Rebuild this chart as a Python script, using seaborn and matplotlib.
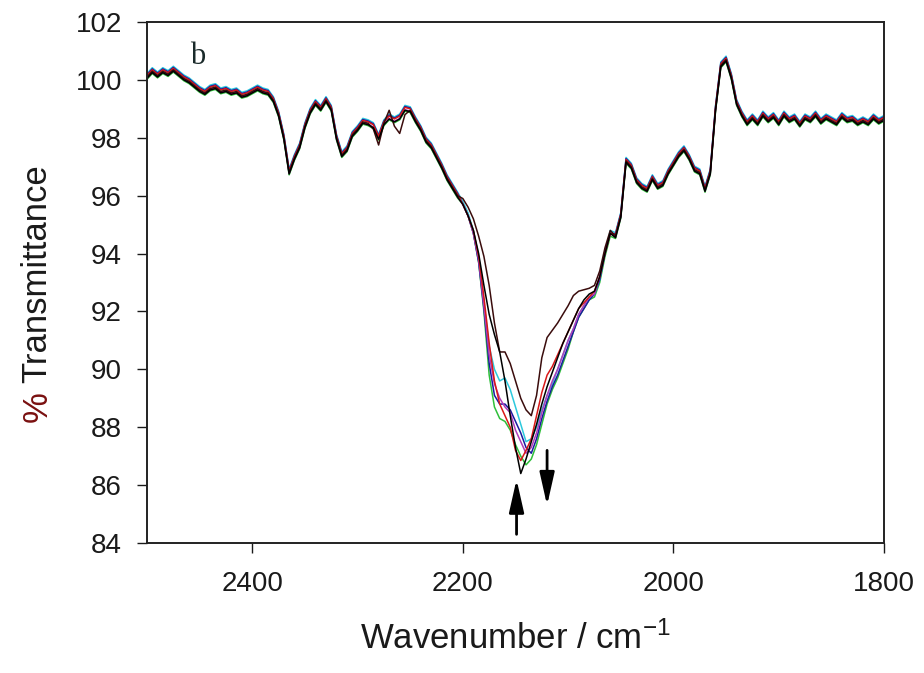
import numpy as np
import pandas as pd
import matplotlib
matplotlib.use("Agg")
import matplotlib.pyplot as plt
import seaborn as sns

# ---------------- data ----------------
wn_left = np.arange(2500, 2200, -5)      # 2500 ... 2205
T_left = [100.1, 100.3, 100.15, 100.3, 100.2, 100.35, 100.2, 100.05, 99.95, 99.8,
          99.65, 99.55, 99.7, 99.75, 99.6, 99.65, 99.55, 99.6, 99.45, 99.5,
          99.6, 99.7, 99.6, 99.55, 99.3, 98.8, 98.0, 96.8, 97.3, 97.7,
          98.4, 98.9, 99.2, 99.0, 99.3, 99.0, 98.0, 97.4, 97.6, 98.1,
          98.3, 98.55, 98.5, 98.4, 98.0, 98.5, 98.7, 98.6, 98.7, 99.0,
          98.95, 98.6, 98.3, 97.9, 97.7, 97.35, 97.0, 96.6, 96.3, 96.0]

# dark trace deviates a little between 2285 and 2255
dark_patch_wn = [2285, 2280, 2275, 2270, 2265, 2260, 2255]
dark_patch_T = [98.3, 97.75, 98.5, 98.95, 98.4, 98.15, 98.8]

wn_mid = np.arange(2200, 2055, -5)       # 2200 ... 2060
mid_dark = [95.9, 95.6, 95.2, 94.6, 93.9, 92.9, 91.6, 90.6, 90.6, 90.2,
            89.6, 89.0, 88.6, 88.4, 89.1, 90.4, 91.1, 91.35, 91.6, 91.9,
            92.2, 92.55, 92.7, 92.75, 92.8, 92.9, 93.4, 94.2, 94.8]
mid_black = [95.7, 95.3, 94.8, 94.0, 92.9, 91.9, 91.2, 90.6, 89.6, 88.4,
             87.3, 86.4, 86.9, 87.5, 88.1, 88.8, 89.4, 89.9, 90.4, 90.9,
             91.3, 91.7, 92.1, 92.4, 92.6, 92.7, 93.2, 94.0, 94.7]
mid_red = [95.7, 95.3, 94.8, 93.9, 92.5, 90.9, 89.6, 88.8, 88.4, 88.0,
           87.2, 86.85, 87.2, 87.6, 88.4, 89.2, 89.8, 90.1, 90.5, 90.9,
           91.3, 91.7, 92.1, 92.3, 92.5, 92.7, 93.2, 94.0, 94.7]
mid_green = [95.7, 95.3, 94.7, 93.7, 92.0, 89.8, 88.7, 88.3, 88.2, 87.9,
             87.4, 87.0, 86.7, 86.9, 87.4, 88.1, 88.8, 89.3, 89.7, 90.2,
             90.7, 91.3, 91.8, 92.1, 92.4, 92.5, 93.0, 93.9, 94.6]
mid_blue = [95.7, 95.3, 94.7, 93.7, 92.1, 90.2, 89.1, 88.8, 88.8, 88.6,
            88.2, 87.8, 87.3, 87.1, 87.6, 88.3, 88.9, 89.4, 89.8, 90.3,
            90.8, 91.3, 91.8, 92.1, 92.4, 92.6, 93.1, 94.0, 94.7]
mid_cyan = [95.8, 95.4, 94.8, 93.8, 92.3, 90.8, 90.0, 89.6, 89.7, 89.3,
            88.7, 88.1, 87.5, 87.6, 88.0, 88.6, 89.1, 89.5, 90.0, 90.5,
            91.0, 91.4, 91.9, 92.2, 92.5, 92.6, 93.1, 94.0, 94.8]
mid_purple = [95.7, 95.3, 94.7, 93.8, 92.2, 90.5, 89.5, 89.0, 88.7, 88.5,
              87.9, 87.5, 87.1, 87.3, 87.8, 88.5, 89.1, 89.6, 90.0, 90.5,
              91.0, 91.4, 91.9, 92.2, 92.5, 92.6, 93.2, 94.1, 94.7]

wn_right = np.arange(2055, 1795, -5)     # 2055 ... 1800
T_right = [94.6, 95.3, 97.2, 97.0, 96.5, 96.3, 96.2, 96.6, 96.3, 96.4,
           96.8, 97.1, 97.4, 97.6, 97.3, 96.9, 96.8, 96.2, 96.8, 99.0,
           100.5, 100.7, 100.1, 99.2, 98.8, 98.5, 98.7, 98.5, 98.8, 98.6,
           98.75, 98.5, 98.8, 98.6, 98.7, 98.45, 98.7, 98.6, 98.8, 98.55,
           98.7, 98.6, 98.5, 98.75, 98.6, 98.65, 98.5, 98.6, 98.5, 98.7,
           98.55, 98.65]

series_names = ["green", "cyan", "blue", "purple", "red", "dark", "black"]
series_mid = [mid_green, mid_cyan, mid_blue, mid_purple, mid_red, mid_dark, mid_black]
series_offsets = [-0.08, 0.12, 0.08, -0.03, 0.05, 0.0, -0.05]
series_colors = ["#2fbf3a", "#2cc9dd", "#1a1aa0", "#b03cb8", "#d81818", "#3a0c0c", "#000000"]

arrow_up_x, arrow_up_from, arrow_up_to = 2149, 84.3, 86.2
arrow_dn_x, arrow_dn_from, arrow_dn_to = 2120, 87.2, 85.3
panel_label = "b"
panel_label_pos = (2452, 100.8)

x_ticks = [2400, 2200, 2000, 1800]
y_ticks = [84, 86, 88, 90, 92, 94, 96, 98, 100, 102]

# ---------------- build long-form table ----------------
frames = []
for name, mid, off in zip(series_names, series_mid, series_offsets):
    left = pd.Series(np.array(T_left) + off, index=wn_left)
    if name == "dark":
        left.loc[dark_patch_wn] = dark_patch_T
    wn = np.concatenate([wn_left, wn_mid, wn_right])
    T = np.concatenate([left.values, np.array(mid), np.array(T_right) + off])
    frames.append(pd.DataFrame({"wn": wn, "T": T, "series": name}))
df = pd.concat(frames, ignore_index=True)

# ---------------- plot ----------------
sns.set_style("white")
plt.rcParams["font.family"] = ["Liberation Sans", "DejaVu Sans"]
plt.rcParams["mathtext.fontset"] = "custom"
plt.rcParams["mathtext.rm"] = "Liberation Sans"
plt.rcParams["mathtext.it"] = "Liberation Sans"

fig = plt.figure(figsize=(9.24, 6.73), dpi=100)
ax = fig.add_axes([147 / 924, 1 - 543 / 673, (884 - 147) / 924, (543 - 22) / 673])

sns.lineplot(data=df, x="wn", y="T", hue="series", hue_order=series_names,
             palette=dict(zip(series_names, series_colors)), estimator=None,
             linewidth=1.1, legend=False, ax=ax)

ax.set_xlim(2500, 1800)
ax.set_ylim(84, 102)
ax.set_xticks(x_ticks)
ax.set_yticks(y_ticks)
ax.tick_params(axis="both", direction="out", length=7, width=1.0,
               labelsize=20, colors="#1a1a1a", bottom=True, left=True, top=False, right=False)
ax.tick_params(axis="x", pad=13)
ax.tick_params(axis="y", pad=11)
for s in ax.spines.values():
    s.set_color("#222222")
    s.set_linewidth(1.4)

ax.set_xlabel(r"Wavenumber / cm$^{\mathrm{-1}}$", fontsize=25, color="#1a1a1a", labelpad=18)
ax.set_ylabel("")

# y label: red "%" followed by "Transmittance"
ylab_kw = dict(rotation=90, rotation_mode="anchor", ha="left", va="center", fontsize=25)
x0, y0 = 37 / 924, 1 - 422 / 673
pct = fig.text(x0, y0, "%", color="#7a1010", **ylab_kw)
fig.canvas.draw()
bb = pct.get_window_extent(renderer=fig.canvas.get_renderer())
gap = 8 / 673
fig.text(x0, bb.y1 / fig.bbox.height + gap, "Transmittance", color="#1a1a1a", **ylab_kw)

ax.text(panel_label_pos[0], panel_label_pos[1], panel_label, fontsize=22,
        family="Liberation Serif", ha="center", va="center", color="#1a2a2a")

arrow_kw = dict(arrowstyle="-|>,head_length=2.0,head_width=0.45", lw=2.0, color="black",
                shrinkA=0, shrinkB=0)
ax.annotate("", xy=(arrow_up_x, arrow_up_to), xytext=(arrow_up_x, arrow_up_from), arrowprops=arrow_kw)
ax.annotate("", xy=(arrow_dn_x, arrow_dn_to), xytext=(arrow_dn_x, arrow_dn_from), arrowprops=arrow_kw)

fig.savefig("out.png", dpi=100)
